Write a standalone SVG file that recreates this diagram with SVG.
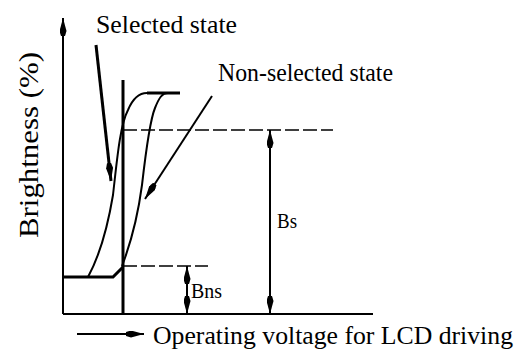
<svg xmlns="http://www.w3.org/2000/svg" width="519" height="354" viewBox="0 0 519 354">
<style>
.ax{stroke:#000;stroke-width:2;fill:none}
.thick{stroke:#000;stroke-width:3;fill:none}
.curve{stroke:#000;stroke-width:2;fill:none}
.dash{stroke:#000;stroke-width:1.5;stroke-dasharray:14 4;fill:none}
.ah{fill:#000;stroke:none}
</style>
<defs>
<marker id="arr" viewBox="0 0 18 7" refX="18" refY="3.5" markerWidth="18" markerHeight="7" markerUnits="userSpaceOnUse" orient="auto">
<path class="ah" d="M0,1.5 L5,0 L18,3.5 L5,7 L0,5.5 Z"/>
</marker>
</defs>
<rect width="519" height="354" fill="#fff"/>
<g id="axes">
<line class="ax" x1="63" y1="314" x2="63" y2="18" marker-end="url(#arr)"/>
<line class="ax" x1="63" y1="314" x2="373" y2="314"/>
<line class="thick" x1="123" y1="80" x2="123" y2="315"/>
</g>
<g id="curves">
<polyline class="thick" points="63,277 113,277 123,267"/>
<line class="thick" x1="147" y1="93" x2="180" y2="93"/>
<path class="curve" d="M88,277 C100,255 108,225 113,195 C117,160 120,125 128,110 C133,98 140,93 147,93"/>
<path class="curve" d="M122,266 C132,240 138,215 142,185 C146,150 150,120 155,108 C159,98 162,93 168,93"/>
</g>
<g id="guides">
<line class="dash" x1="123" y1="130" x2="333" y2="130"/>
<line class="dash" x1="123" y1="266" x2="208" y2="266"/>
</g>
<g id="connectors">
<line class="thick" x1="96" y1="45" x2="111" y2="181" marker-end="url(#arr)"/>
<line class="curve" x1="212" y1="96" x2="145" y2="199" marker-end="url(#arr)"/>
<line class="curve" x1="77" y1="334" x2="144" y2="334" marker-end="url(#arr)"/>
<line class="curve" x1="270" y1="222" x2="270" y2="130" marker-end="url(#arr)"/>
<line class="curve" x1="270" y1="222" x2="270" y2="314" marker-end="url(#arr)"/>
<line class="curve" x1="187" y1="290" x2="187" y2="266" marker-end="url(#arr)"/>
<line class="curve" x1="187" y1="290" x2="187" y2="314" marker-end="url(#arr)"/>
</g>
<g id="labels" fill="#000">
<text font-family="Liberation Serif, serif" x="96" y="33" font-size="25" textLength="141" lengthAdjust="spacingAndGlyphs">Selected state</text>
<text font-family="Liberation Serif, serif" x="218" y="81" font-size="25" textLength="175" lengthAdjust="spacingAndGlyphs">Non-selected state</text>
<text font-family="Liberation Serif, serif" transform="translate(38,238) rotate(-90)" font-size="27" textLength="186" lengthAdjust="spacingAndGlyphs">Brightness (%)</text>
<text font-family="Liberation Serif, serif" x="153" y="344" font-size="26" textLength="360" lengthAdjust="spacingAndGlyphs">Operating voltage for LCD driving</text>
<text font-family="Liberation Serif, serif" x="277" y="228" font-size="20" textLength="20" lengthAdjust="spacingAndGlyphs">Bs</text>
<text font-family="Liberation Serif, serif" x="191" y="298" font-size="20" textLength="31" lengthAdjust="spacingAndGlyphs">Bns</text>
</g>
</svg>
